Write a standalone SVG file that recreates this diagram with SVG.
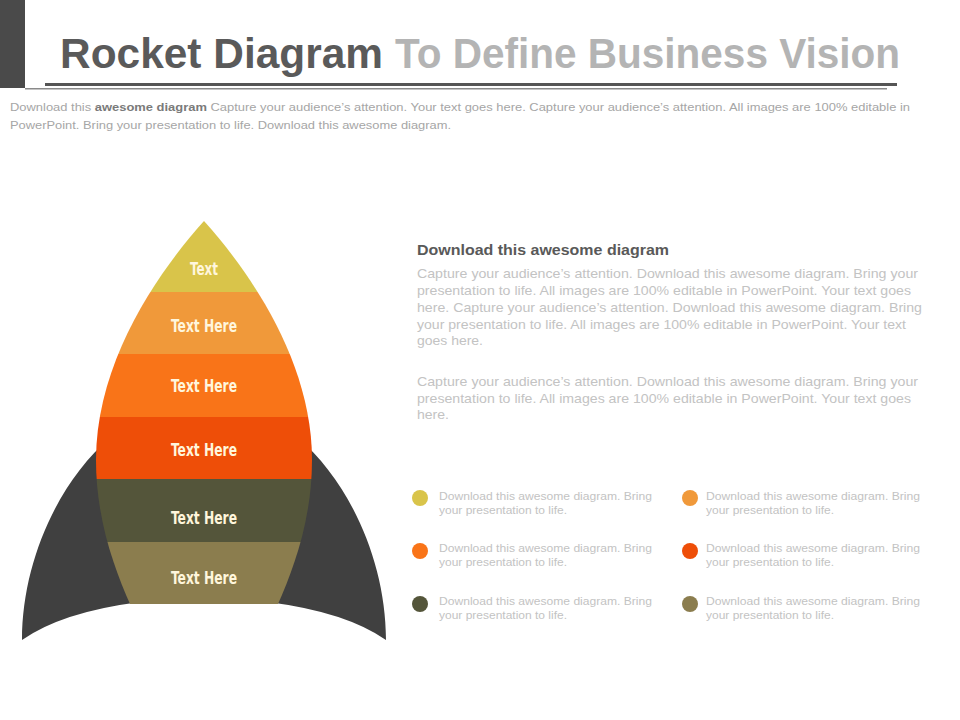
<svg xmlns="http://www.w3.org/2000/svg" width="960" height="720" viewBox="0 0 960 720">
<style>
.title{font-family:"Liberation Sans",Arial,sans-serif;font-weight:bold;font-size:42px}
.sub{font-family:"Liberation Sans",Arial,sans-serif;font-size:11px;fill:#a6a6a6}
.lbl{font-family:"DejaVu Sans Condensed","DejaVu Sans",sans-serif;font-weight:bold;font-size:18px;fill:#fff6dc;text-anchor:middle}
.head{font-family:"Liberation Sans",Arial,sans-serif;font-weight:bold;font-size:15px;fill:#595959}
.para{font-family:"Liberation Sans",Arial,sans-serif;font-size:13px;fill:#c3c3c3}
.leg{font-family:"Liberation Sans",Arial,sans-serif;font-size:11px;fill:#c3c3c3}
.fin{fill:#404040}
</style>
<defs>
<clipPath id="bodyClip">
<path d="M204,221 C160,270 96,360 96,460 C96,520 115,570 130,604 L278,604 C293,570 312,520 312,460 C312,360 248,270 204,221 Z"/>
</clipPath>
</defs>
<rect width="960" height="720" fill="#ffffff"/>
<g id="header">
<rect x="0" y="0" width="25" height="88" fill="#4a4a4a"/>
<text class="title" x="60" y="68" fill="#5a5a5a" textLength="323" lengthAdjust="spacingAndGlyphs">Rocket Diagram</text>
<text class="title" x="395" y="68" fill="#b4b4b4" textLength="505" lengthAdjust="spacingAndGlyphs">To Define Business Vision</text>
<rect x="45" y="83" width="852" height="3" fill="#555555"/>
<rect x="25" y="88" width="862" height="1.5" fill="#8a8a8a"/>
<text class="sub" x="10" y="111" textLength="900" lengthAdjust="spacingAndGlyphs">Download this <tspan font-weight="bold" fill="#7a7a7a">awesome diagram</tspan> Capture your audience’s attention. Your text goes here. Capture your audience’s attention. All images are 100% editable in</text>
<text class="sub" x="10" y="129" textLength="441" lengthAdjust="spacingAndGlyphs">PowerPoint. Bring your presentation to life. Download this awesome diagram.</text>
</g>
<g id="fin-left">
<path class="fin" d="M110,438 C60,480 22,560 22,640 Q62,612 140,602 L140,438 Z"/>
</g>
<g id="fin-right">
<path class="fin" d="M298,438 C348,480 386,560 386,640 Q346,612 268,602 L268,438 Z"/>
</g>
<g id="rocket-body" clip-path="url(#bodyClip)">
<rect x="80" y="215" width="250" height="77" fill="#d9c44a"/>
<rect x="80" y="292" width="250" height="62" fill="#f0993a"/>
<rect x="80" y="354" width="250" height="63" fill="#f97418"/>
<rect x="80" y="417" width="250" height="62" fill="#ee4e08"/>
<rect x="80" y="479" width="250" height="63" fill="#54553a"/>
<rect x="80" y="542" width="250" height="64" fill="#8b7d4e"/>
</g>
<g id="labels">
<text class="lbl" x="204" y="275" textLength="28" lengthAdjust="spacingAndGlyphs">Text</text>
<text class="lbl" x="204" y="332" textLength="66" lengthAdjust="spacingAndGlyphs">Text  Here</text>
<text class="lbl" x="204" y="392" textLength="66" lengthAdjust="spacingAndGlyphs">Text  Here</text>
<text class="lbl" x="204" y="456" textLength="66" lengthAdjust="spacingAndGlyphs">Text  Here</text>
<text class="lbl" x="204" y="524" textLength="66" lengthAdjust="spacingAndGlyphs">Text  Here</text>
<text class="lbl" x="204" y="584" textLength="66" lengthAdjust="spacingAndGlyphs">Text  Here</text>
</g>
<g id="description">
<text class="head" x="417" y="255" textLength="252" lengthAdjust="spacingAndGlyphs">Download this awesome diagram</text>
<text class="para" x="417" y="278" textLength="501" lengthAdjust="spacingAndGlyphs">Capture your audience’s attention. Download this  awesome diagram. Bring your</text>
<text class="para" x="417" y="295" textLength="494" lengthAdjust="spacingAndGlyphs">presentation to life. All images are 100% editable in PowerPoint. Your text goes</text>
<text class="para" x="417" y="312" textLength="505" lengthAdjust="spacingAndGlyphs">here. Capture your audience’s attention. Download this  awesome diagram. Bring</text>
<text class="para" x="417" y="329" textLength="489" lengthAdjust="spacingAndGlyphs">your presentation to life. All images are 100% editable in PowerPoint. Your text</text>
<text class="para" x="417" y="345" textLength="66" lengthAdjust="spacingAndGlyphs">goes here.</text>
<text class="para" x="417" y="386" textLength="501" lengthAdjust="spacingAndGlyphs">Capture your audience’s attention. Download this  awesome diagram. Bring your</text>
<text class="para" x="417" y="403" textLength="494" lengthAdjust="spacingAndGlyphs">presentation to life. All images are 100% editable in PowerPoint. Your text goes</text>
<text class="para" x="417" y="419" textLength="32" lengthAdjust="spacingAndGlyphs">here.</text>
</g>
<g id="legend">
<circle cx="420" cy="498" r="8" fill="#d9c44a"/>
<text class="leg" x="439" y="500" textLength="213" lengthAdjust="spacingAndGlyphs">Download this awesome diagram. Bring</text>
<text class="leg" x="439" y="514" textLength="128" lengthAdjust="spacingAndGlyphs">your presentation to life.</text>
<circle cx="690" cy="498" r="8" fill="#f0993a"/>
<text class="leg" x="706" y="500" textLength="214" lengthAdjust="spacingAndGlyphs">Download this awesome diagram. Bring</text>
<text class="leg" x="706" y="514" textLength="128" lengthAdjust="spacingAndGlyphs">your presentation to life.</text>
<circle cx="420" cy="551" r="8" fill="#f97418"/>
<text class="leg" x="439" y="552" textLength="213" lengthAdjust="spacingAndGlyphs">Download this awesome diagram. Bring</text>
<text class="leg" x="439" y="566" textLength="128" lengthAdjust="spacingAndGlyphs">your presentation to life.</text>
<circle cx="690" cy="551" r="8" fill="#ee4e08"/>
<text class="leg" x="706" y="552" textLength="214" lengthAdjust="spacingAndGlyphs">Download this awesome diagram. Bring</text>
<text class="leg" x="706" y="566" textLength="128" lengthAdjust="spacingAndGlyphs">your presentation to life.</text>
<circle cx="420" cy="604" r="8" fill="#54553a"/>
<text class="leg" x="439" y="605" textLength="213" lengthAdjust="spacingAndGlyphs">Download this awesome diagram. Bring</text>
<text class="leg" x="439" y="619" textLength="128" lengthAdjust="spacingAndGlyphs">your presentation to life.</text>
<circle cx="690" cy="604" r="8" fill="#8b7d4e"/>
<text class="leg" x="706" y="605" textLength="214" lengthAdjust="spacingAndGlyphs">Download this awesome diagram. Bring</text>
<text class="leg" x="706" y="619" textLength="128" lengthAdjust="spacingAndGlyphs">your presentation to life.</text>
</g>
</svg>
